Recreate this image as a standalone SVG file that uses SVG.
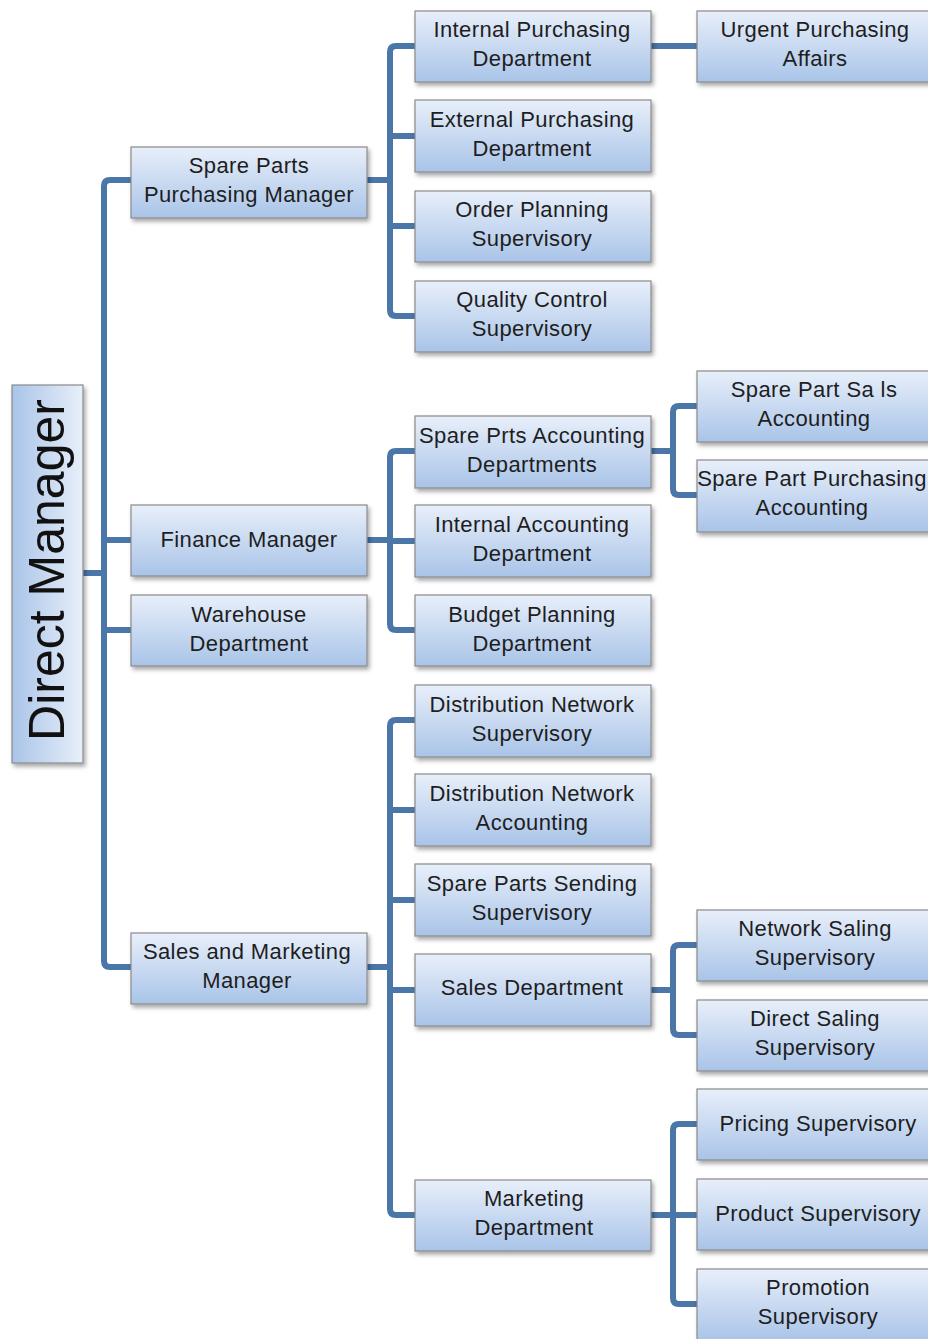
<svg xmlns="http://www.w3.org/2000/svg" width="928" height="1339" viewBox="0 0 928 1339">
<defs>
<linearGradient id="g" x1="0" y1="0" x2="0" y2="1">
<stop offset="0" stop-color="#e8effa"/>
<stop offset="1" stop-color="#a9c4e8"/>
</linearGradient>
<linearGradient id="gv" x1="1" y1="0" x2="0" y2="0">
<stop offset="0" stop-color="#e8effa"/>
<stop offset="1" stop-color="#a9c4e8"/>
</linearGradient>
<filter id="sh" x="-10%" y="-10%" width="130%" height="140%">
<feDropShadow dx="2" dy="3" stdDeviation="2" flood-color="#000" flood-opacity="0.35"/>
</filter>
</defs>
<style>
.b{fill:url(#g);stroke:#8a8a8a;stroke-width:1.2;filter:url(#sh)}
.t{font-family:"Liberation Sans",Arial,sans-serif;font-size:22px;letter-spacing:0.4px;fill:#1e1e1e;text-anchor:middle}
.c{fill:none;stroke:#4a76a8;stroke-width:6;stroke-linejoin:round;stroke-linecap:butt}
</style>
<g id="connectors">
<path class="c" d="M83 573 H104"/>
<path class="c" d="M131 180 H110 Q104 180 104 186 V961 Q104 967 110 967 H131"/>
<path class="c" d="M104 540 H131"/>
<path class="c" d="M104 630 H131"/>
<path class="c" d="M367 180 H390"/>
<path class="c" d="M415 46 H396 Q390 46 390 52 V310 Q390 316 396 316 H415"/>
<path class="c" d="M390 136 H415"/>
<path class="c" d="M390 226 H415"/>
<path class="c" d="M367 540 H390"/>
<path class="c" d="M415 451 H396 Q390 451 390 457 V624 Q390 630 396 630 H415"/>
<path class="c" d="M390 541 H415"/>
<path class="c" d="M367 967 H390"/>
<path class="c" d="M415 720 H396 Q390 720 390 726 V1209 Q390 1215 396 1215 H415"/>
<path class="c" d="M390 810 H415"/>
<path class="c" d="M390 900 H415"/>
<path class="c" d="M390 990 H415"/>
<path class="c" d="M651 46 H697"/>
<path class="c" d="M651 451 H673"/>
<path class="c" d="M697 406 H679 Q673 406 673 412 V489 Q673 495 679 495 H697"/>
<path class="c" d="M651 990 H673"/>
<path class="c" d="M697 945 H679 Q673 945 673 951 V1029 Q673 1035 679 1035 H697"/>
<path class="c" d="M651 1215 H697"/>
<path class="c" d="M697 1124 H679 Q673 1124 673 1130 V1298 Q673 1304 679 1304 H697"/>
</g>
<g id="direct-manager">
<rect x="12" y="385" width="71" height="378" fill="url(#gv)" stroke="#8a8a8a" stroke-width="1.2" filter="url(#sh)"/>
<text transform="translate(64 570) rotate(-90)" font-family="'Liberation Sans',Arial,sans-serif" font-size="50" fill="#111" text-anchor="middle">Direct Manager</text>
</g>
<g id="spare-parts-purchasing-manager"><rect class="b" x="131" y="147" width="236" height="71"/><text class="t" x="249" y="173">Spare Parts</text><text class="t" x="249" y="202">Purchasing Manager</text></g>
<g id="finance-manager"><rect class="b" x="131" y="505" width="236" height="71"/><text class="t" x="249" y="547">Finance Manager</text></g>
<g id="warehouse-department"><rect class="b" x="131" y="595" width="236" height="71"/><text class="t" x="249" y="622">Warehouse</text><text class="t" x="249" y="651">Department</text></g>
<g id="sales-marketing-manager"><rect class="b" x="131" y="933" width="236" height="71"/><text class="t" x="247" y="959">Sales and Marketing</text><text class="t" x="247" y="988">Manager</text></g>
<g id="internal-purchasing"><rect class="b" x="415" y="11" width="236" height="71"/><text class="t" x="532" y="37">Internal Purchasing</text><text class="t" x="532" y="66">Department</text></g>
<g id="external-purchasing"><rect class="b" x="415" y="100" width="236" height="72"/><text class="t" x="532" y="127">External Purchasing</text><text class="t" x="532" y="156">Department</text></g>
<g id="order-planning"><rect class="b" x="415" y="191" width="236" height="71"/><text class="t" x="532" y="217">Order Planning</text><text class="t" x="532" y="246">Supervisory</text></g>
<g id="quality-control"><rect class="b" x="415" y="281" width="236" height="71"/><text class="t" x="532" y="307">Quality Control</text><text class="t" x="532" y="336">Supervisory</text></g>
<g id="spare-prts-accounting"><rect class="b" x="415" y="416" width="236" height="72"/><text class="t" x="532" y="443">Spare Prts Accounting</text><text class="t" x="532" y="472">Departments</text></g>
<g id="internal-accounting"><rect class="b" x="415" y="505" width="236" height="72"/><text class="t" x="532" y="532">Internal Accounting</text><text class="t" x="532" y="561">Department</text></g>
<g id="budget-planning"><rect class="b" x="415" y="595" width="236" height="71"/><text class="t" x="532" y="622">Budget Planning</text><text class="t" x="532" y="651">Department</text></g>
<g id="distribution-network-supervisory"><rect class="b" x="415" y="685" width="236" height="72"/><text class="t" x="532" y="712">Distribution Network</text><text class="t" x="532" y="741">Supervisory</text></g>
<g id="distribution-network-accounting"><rect class="b" x="415" y="774" width="236" height="72"/><text class="t" x="532" y="801">Distribution Network</text><text class="t" x="532" y="830">Accounting</text></g>
<g id="spare-parts-sending"><rect class="b" x="415" y="864" width="236" height="72"/><text class="t" x="532" y="891">Spare Parts Sending</text><text class="t" x="532" y="920">Supervisory</text></g>
<g id="sales-department"><rect class="b" x="415" y="954" width="236" height="72"/><text class="t" x="532" y="995">Sales Department</text></g>
<g id="marketing-department"><rect class="b" x="415" y="1180" width="236" height="71"/><text class="t" x="534" y="1206">Marketing</text><text class="t" x="534" y="1235">Department</text></g>
<g id="urgent-purchasing"><rect class="b" x="697" y="11" width="236" height="71"/><text class="t" x="815" y="37">Urgent Purchasing</text><text class="t" x="815" y="66">Affairs</text></g>
<g id="spare-part-sales-accounting"><rect class="b" x="697" y="371" width="236" height="71"/><text class="t" x="814" y="397">Spare Part Sa ls</text><text class="t" x="814" y="426">Accounting</text></g>
<g id="spare-part-purchasing-accounting"><rect class="b" x="697" y="460" width="236" height="72"/><text class="t" x="812" y="486">Spare Part Purchasing</text><text class="t" x="812" y="515">Accounting</text></g>
<g id="network-saling"><rect class="b" x="697" y="910" width="236" height="71"/><text class="t" x="815" y="936">Network Saling</text><text class="t" x="815" y="965">Supervisory</text></g>
<g id="direct-saling"><rect class="b" x="697" y="1000" width="236" height="71"/><text class="t" x="815" y="1026">Direct Saling</text><text class="t" x="815" y="1055">Supervisory</text></g>
<g id="pricing-supervisory"><rect class="b" x="697" y="1089" width="236" height="71"/><text class="t" x="818" y="1131">Pricing Supervisory</text></g>
<g id="product-supervisory"><rect class="b" x="697" y="1179" width="236" height="71"/><text class="t" x="818" y="1221">Product Supervisory</text></g>
<g id="promotion-supervisory"><rect class="b" x="697" y="1269" width="236" height="72"/><text class="t" x="818" y="1295">Promotion</text><text class="t" x="818" y="1324">Supervisory</text></g>
</svg>
